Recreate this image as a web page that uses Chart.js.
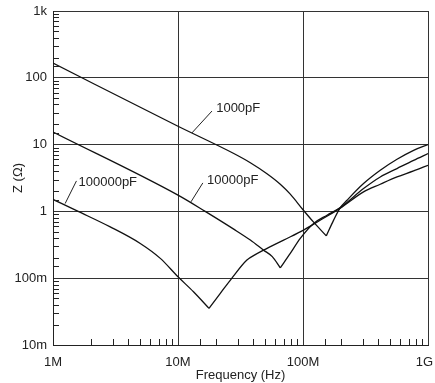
<!DOCTYPE html>
<html>
<head>
<meta charset="utf-8">
<title>Z vs Frequency</title>
<script src="https://cdn.jsdelivr.net/npm/chart.js@4/dist/chart.umd.min.js"></script>
<style>
  html, body { margin: 0; padding: 0; background: #fff; }
  #grafico { display: block; }
</style>
</head>
<body>
<canvas id="grafico" width="435" height="383"></canvas>
<script>
//Curva 1000pF (Hz, ohm)
const freq1000 = [1e6, 10e6, 27.7e6, 37.9e6, 51.5e6, 65.8e6, 79.1e6, 100e6, 121.6e6, 153.6e6, 175.8e6, 198.8e6, 225e6, 305e6, 415e6, 565e6, 767e6, 1000e6];
const z1000 = [166, 18.8, 7.41, 5.35, 3.66, 2.55, 1.81, 1.06, 0.69, 0.43, 0.74, 1.14, 1.47, 2.61, 4.13, 6.03, 8.22, 10];

//Curva 10000pF
const freq10000 = [1e6, 10e6, 16.5e6, 27.9e6, 37.9e6, 48.4e6, 56.8e6, 65.8e6, 79.1e6, 95.1e6, 121.6e6, 155.6e6, 198.8e6, 305e6, 415e6, 565e6, 767e6, 1000e6];
const z10000 = [15.4, 1.75, 1.0, 0.542, 0.372, 0.263, 0.210, 0.143, 0.235, 0.394, 0.659, 0.877, 1.14, 2.20, 3.28, 4.38, 5.82, 7.34];

//Curva 100000pF
const freq100000 = [1e6, 1.59e6, 2.87e6, 4.99e6, 7.22e6, 10e6, 13.3e6, 17.7e6, 21.8e6, 27.0e6, 35.6e6, 41.5e6, 48.4e6, 70.0e6, 101e6, 137e6, 198.8e6, 305e6, 415e6, 565e6, 767e6, 1000e6];
const z100000 = [1.51, 1.0, 0.586, 0.331, 0.198, 0.105, 0.0627, 0.0354, 0.0593, 0.1005, 0.187, 0.225, 0.263, 0.372, 0.524, 0.738, 1.12, 1.96, 2.55, 3.28, 4.03, 4.91];

//Etiquetas de los ejes
const xTickValues = [1e6, 1e7, 1e8, 1e9];
const xTickLabels = ['1M', '10M', '100M', '1G  '];
const yTickValues = [0.01, 0.1, 1, 10, 100, 1000];
const yTickLabels = ['10m', '100m', '1', '10', '100', '1k'];

//Nombres de las curvas con su flecha: [x, y, desde x, desde y, hasta x, hasta y]
const curveNames = ['1000pF', '10000pF', '100000pF'];
const callouts = [
    [20.2e6, 34.9, 18.7e6, 31.8, 12.9e6, 14.9],
    [17.1e6, 2.92, 15.8e6, 2.67, 12.7e6, 1.39],
    [1.60e6, 2.76, 1.54e6, 2.86, 1.25e6, 1.31]
];

const FONT = "'Liberation Sans', Arial, Helvetica, sans-serif";
const INK = '#222';

function toPoints(xs, ys) {
    return xs.map((x, i) => ({ x: x, y: ys[i] }));
}

//Parte la curva en su minimo (resonancia) para que el pico quede en punta
function branches(xs, ys) {
    const pts = toPoints(xs, ys);
    let m = 0;
    ys.forEach((v, i) => { if (v < ys[m]) m = i; });
    return [pts.slice(0, m + 1), pts.slice(m)];
}

function labelFor(values, labels, v) {
    for (let i = 0; i < values.length; i++) {
        if (Math.abs(Math.log10(v) - Math.log10(values[i])) < 1e-6) return labels[i];
    }
    return '';
}

function isDecade(v) {
    const e = Math.log10(v);
    return Math.abs(e - Math.round(e)) < 1e-6;
}

//Marcas menores hacia adentro
const minorTicks = {
    id: 'minorTicks',
    afterDatasetsDraw(chart) {
        const { ctx, chartArea, scales } = chart;
        ctx.save();
        ctx.strokeStyle = INK;
        ctx.lineWidth = 1;
        ctx.beginPath();
        scales.x.ticks.forEach(t => {
            if (isDecade(t.value)) return;
            const px = Math.round(scales.x.getPixelForValue(t.value)) + 0.5;
            ctx.moveTo(px, chartArea.bottom);
            ctx.lineTo(px, chartArea.bottom - 6);
        });
        scales.y.ticks.forEach(t => {
            if (isDecade(t.value)) return;
            const py = Math.round(scales.y.getPixelForValue(t.value)) + 0.5;
            ctx.moveTo(chartArea.left, py);
            ctx.lineTo(chartArea.left + 6, py);
        });
        ctx.stroke();
        ctx.restore();
    }
};

//Nombres de las curvas
const curveLabels = {
    id: 'curveLabels',
    afterDatasetsDraw(chart) {
        const { ctx, scales } = chart;
        ctx.save();
        ctx.strokeStyle = INK;
        ctx.fillStyle = INK;
        ctx.lineWidth = 1;
        ctx.font = '13px ' + FONT;
        ctx.textAlign = 'left';
        ctx.textBaseline = 'middle';
        callouts.forEach((c, i) => {
            ctx.beginPath();
            ctx.moveTo(scales.x.getPixelForValue(c[2]), scales.y.getPixelForValue(c[3]));
            ctx.lineTo(scales.x.getPixelForValue(c[4]), scales.y.getPixelForValue(c[5]));
            ctx.stroke();
            ctx.fillText(curveNames[i], scales.x.getPixelForValue(c[0]), scales.y.getPixelForValue(c[1]));
        });
        ctx.restore();
    }
};

const lineStyle = {
    borderColor: '#111',
    borderWidth: 1.3,
    pointRadius: 0,
    fill: false,
    cubicInterpolationMode: 'monotone'
};

const curvas = [
    [curveNames[0], branches(freq1000, z1000)],
    [curveNames[1], branches(freq10000, z10000)],
    [curveNames[2], branches(freq100000, z100000)]
];

const datos = { datasets: [] };
curvas.forEach(c => {
    datos.datasets.push(Object.assign({ label: c[0], data: c[1][0] }, lineStyle));
    datos.datasets.push(Object.assign({ label: c[0], data: c[1][1] }, lineStyle));
});

const gridColor = ctx => (ctx.tick && isDecade(ctx.tick.value)) ? '#333' : 'rgba(0,0,0,0)';

const config = {
    type: 'line',
    data: datos,
    options: {
        responsive: false,
        animation: false,
        devicePixelRatio: 1,
        layout: { padding: { top: 11, right: 7, bottom: 0, left: 0 } },
        plugins: {
            legend: { display: false },
            tooltip: { enabled: false }
        },
        scales: {
            x: {
                type: 'logarithmic',
                min: 1e6,
                max: 1e9,
                grid: { color: gridColor, lineWidth: 1, drawTicks: false },
                border: { display: true, color: INK, width: 1 },
                ticks: {
                    autoSkip: false,
                    maxRotation: 0,
                    padding: 10,
                    color: INK,
                    font: { family: FONT, size: 13 },
                    callback: v => labelFor(xTickValues, xTickLabels, v)
                },
                title: {
                    display: true,
                    text: 'Frequency (Hz)',
                    color: INK,
                    font: { family: FONT, size: 13 },
                    padding: { top: 0, bottom: 0 }
                },
                afterFit(scale) {
                    scale.height = 38;
                    scale.paddingLeft = 0;
                    scale.paddingRight = 0;
                }
            },
            y: {
                type: 'logarithmic',
                min: 0.01,
                max: 1000,
                grid: { color: gridColor, lineWidth: 1, drawTicks: false },
                border: { display: true, color: INK, width: 1 },
                ticks: {
                    autoSkip: false,
                    padding: 6,
                    color: INK,
                    font: { family: FONT, size: 13 },
                    callback: v => labelFor(yTickValues, yTickLabels, v)
                },
                title: {
                    display: true,
                    text: 'Z (Ω)',
                    color: INK,
                    font: { family: FONT, size: 13 },
                    padding: { top: 11, bottom: 0 }
                },
                afterFit(scale) {
                    scale.width = 53;
                    scale.paddingTop = 0;
                    scale.paddingBottom = 0;
                }
            }
        }
    },
    plugins: [minorTicks, curveLabels]
};

new Chart(document.getElementById('grafico'), config);
</script>
</body>
</html>
